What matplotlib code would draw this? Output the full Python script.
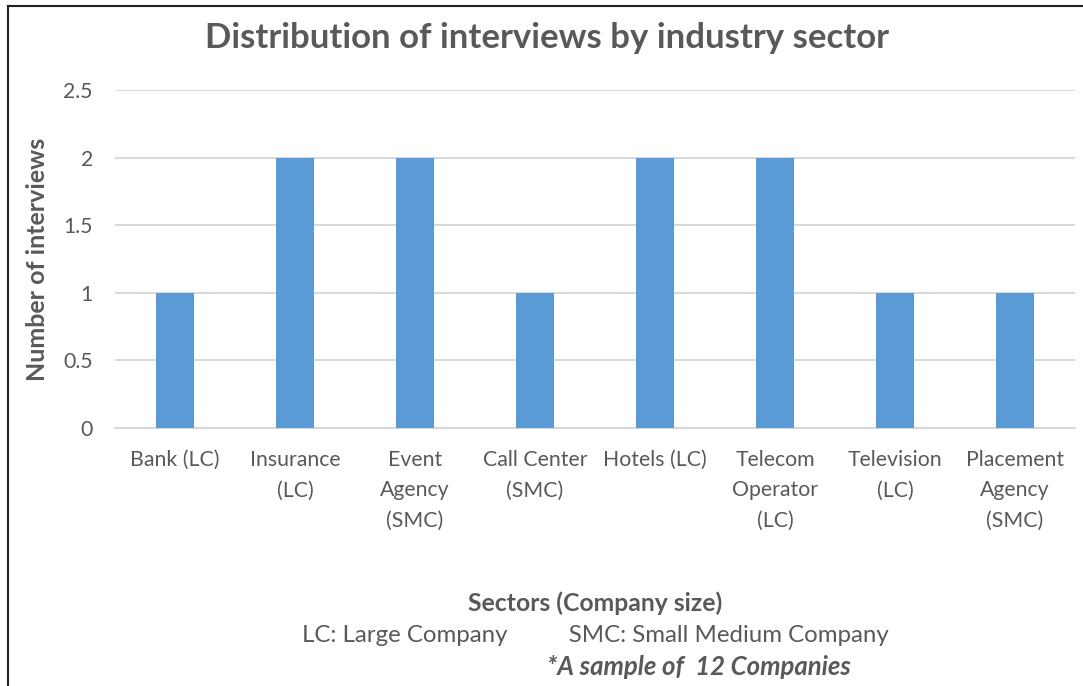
import numpy as np
import matplotlib
matplotlib.use('Agg')
import matplotlib.pyplot as plt

plt.rcParams['font.family'] = ['Lato', 'DejaVu Sans']

sectors = ['Bank (LC)', 'Insurance\n(LC)', 'Event\nAgency\n(SMC)', 'Call Center\n(SMC)',
           'Hotels (LC)', 'Telecom\nOperator\n(LC)', 'Television\n(LC)', 'Placement\nAgency\n(SMC)']
interviews = [1, 2, 2, 1, 2, 2, 1, 1]
yticks = [0, 0.5, 1, 1.5, 2, 2.5]

TXT = '#595959'
fig = plt.figure(figsize=(10.83, 6.86), dpi=100)
ax = fig.add_axes([115/1083, 1 - 428/686, 960/1083, 338/686])

x = np.arange(len(sectors))
ax.bar(x, interviews, width=0.31, color='#5B9BD5', zorder=3)
ax.set_xlim(-0.5, len(sectors) - 0.5)
ax.set_ylim(0, 2.5)
ax.set_yticks(yticks)
ax.set_yticklabels(['0', '0.5', '1', '1.5', '2', '2.5'])
ax.set_xticks(x)
ax.set_xticklabels(sectors, linespacing=1.64, va='top')
ax.tick_params(axis='both', length=0, labelsize=15.3, colors=TXT)
ax.tick_params(axis='x', pad=16)
ax.tick_params(axis='y', pad=16)
ax.grid(axis='y', color='#D9D9D9', linewidth=1.5, zorder=0)
for s in ['top', 'right', 'left']:
    ax.spines[s].set_visible(False)
ax.spines['bottom'].set_color('#D9D9D9')
ax.spines['bottom'].set_linewidth(1.5)

fig.text(38/1083, 1 - 259/686, 'Number of interviews', rotation=90, ha='center', va='center',
         fontsize=18, fontweight='bold', color=TXT)
fig.text(547/1083, 1 - 38/686, 'Distribution of interviews by industry sector', ha='center',
         va='center', fontsize=25, fontweight='bold', color=TXT)
fig.text(595/1083, 1 - 603/686, 'Sectors (Company size)', ha='center', va='center',
         fontsize=17.8, fontweight='bold', color=TXT)
fig.text(595/1083, 1 - 635/686, 'LC: Large Company          SMC: Small Medium Company',
         ha='center', va='center', fontsize=17.3, color=TXT)
fig.text(699/1083, 1 - 667/686, '*A sample of  12 Companies', ha='center', va='center',
         fontsize=18.5, fontweight='bold', style='italic', color=TXT)

# chart border (cut at right and bottom)
fig.add_artist(plt.Line2D([8/1083, 8/1083], [0, 1 - 6/686], color='#222222', linewidth=1.5))
fig.add_artist(plt.Line2D([8/1083, 1], [1 - 6/686, 1 - 6/686], color='#222222', linewidth=1.5))

fig.savefig('out.png', dpi=100)
